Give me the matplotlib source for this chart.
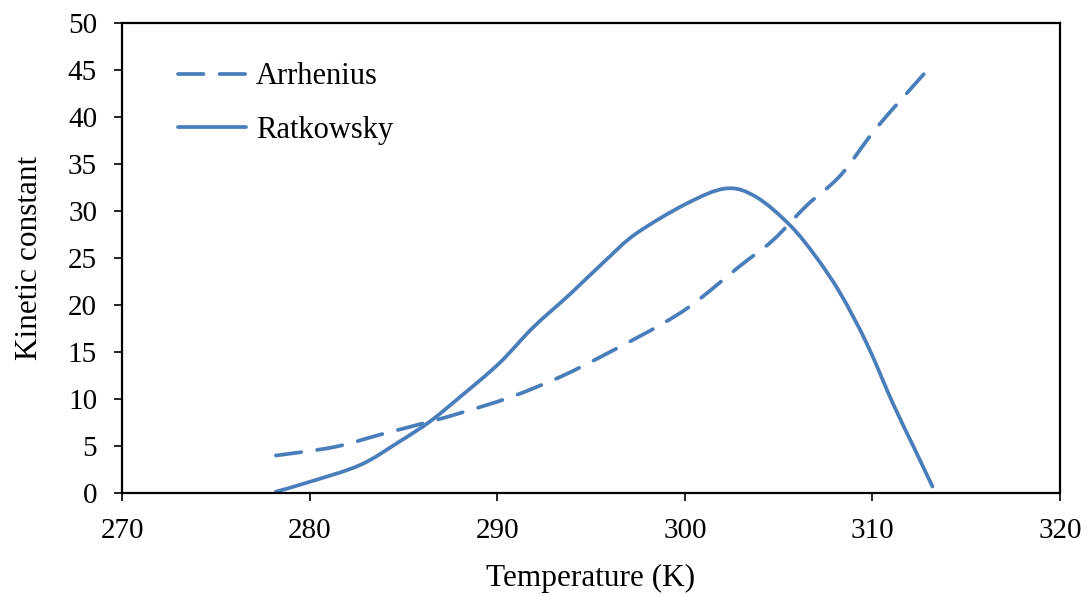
import matplotlib
matplotlib.use("Agg")
import matplotlib.pyplot as plt
from matplotlib.path import Path
from matplotlib.patches import PathPatch
from matplotlib.lines import Line2D

# values
arrhenius_T = [278.2, 281.3, 283.9, 286.4, 288.0, 290.7, 293.4, 296.0, 298.7,
               300.5, 302.9, 304.7, 306.5, 308.3, 310.2, 312.8]
arrhenius_k = [4.0, 4.9, 6.3, 7.6, 8.5, 10.2, 12.4, 15.0, 17.9,
               20.2, 24.1, 26.9, 30.6, 33.8, 38.8, 44.7]

ratkowsky_T = [278.2, 280.0, 282.7, 284.8, 286.4, 288.0, 290.1, 291.9, 293.9,
               295.8, 297.4, 300.1, 302.2, 303.8, 305.6, 307.0, 308.3, 309.7,
               311.1, 312.2, 313.2]
ratkowsky_k = [0.15, 1.2, 3.0, 5.5, 7.6, 10.2, 13.8, 17.6, 21.2,
               24.8, 27.6, 30.8, 32.4, 31.5, 28.5, 25.1, 21.2, 15.9,
               9.5, 4.9, 0.7]

xticks = [270, 280, 290, 300, 310, 320]
yticks = [0, 5, 10, 15, 20, 25, 30, 35, 40, 45, 50]

COLOR = "#4a7ebb"
LW = 2.7
DASH = (0, (6.8, 4.3))


def smooth_path(xs, ys):
    # Excel-style smoothed line: Catmull-Rom segments as cubic Beziers
    pts = list(zip(xs, ys))
    n = len(pts)
    verts = [pts[0]]
    codes = [Path.MOVETO]
    for i in range(n - 1):
        p0 = pts[i - 1] if i > 0 else pts[i]
        p1 = pts[i]
        p2 = pts[i + 1]
        p3 = pts[i + 2] if i + 2 < n else pts[i + 1]
        c1 = (p1[0] + (p2[0] - p0[0]) / 6, p1[1] + (p2[1] - p0[1]) / 6)
        c2 = (p2[0] - (p3[0] - p1[0]) / 6, p2[1] - (p3[1] - p1[1]) / 6)
        verts += [c1, c2, p2]
        codes += [Path.CURVE4] * 3
    return Path(verts, codes)


plt.rcParams["font.family"] = ["Liberation Serif", "DejaVu Serif"]

fig = plt.figure(figsize=(10.9, 5.97), dpi=100)
ax = fig.add_axes([0.112, 0.174, 0.8605, 0.7875])

ax.add_patch(PathPatch(smooth_path(arrhenius_T, arrhenius_k), fill=False,
                       edgecolor=COLOR, lw=LW, linestyle=DASH, capstyle="round"))
ax.add_patch(PathPatch(smooth_path(ratkowsky_T, ratkowsky_k), fill=False,
                       edgecolor=COLOR, lw=LW, capstyle="round"))

ax.set_xlim(270, 320)
ax.set_ylim(0, 50)
ax.set_xticks(xticks)
ax.set_yticks(yticks)
ax.tick_params(direction="out", length=6, width=1.2, labelsize=21)
ax.tick_params(axis="y", pad=12)
ax.tick_params(axis="x", pad=12)
for sp in ax.spines.values():
    sp.set_linewidth(1.6)

ax.set_xlabel("Temperature (K)", fontsize=22.5, labelpad=14)
ax.set_ylabel("Kinetic constant", fontsize=22.5, labelpad=17)

handles = [
    Line2D([], [], color=COLOR, lw=LW, linestyle=DASH, dash_capstyle="round"),
    Line2D([], [], color=COLOR, lw=LW, solid_capstyle="round"),
]
ax.legend(handles, ["Arrhenius", "Ratkowsky"], loc="upper left",
          bbox_to_anchor=(0.03, 0.975), frameon=False, fontsize=22,
          handlelength=2.25, handletextpad=0.3, labelspacing=0.8)

fig.savefig("out.png", dpi=100)
